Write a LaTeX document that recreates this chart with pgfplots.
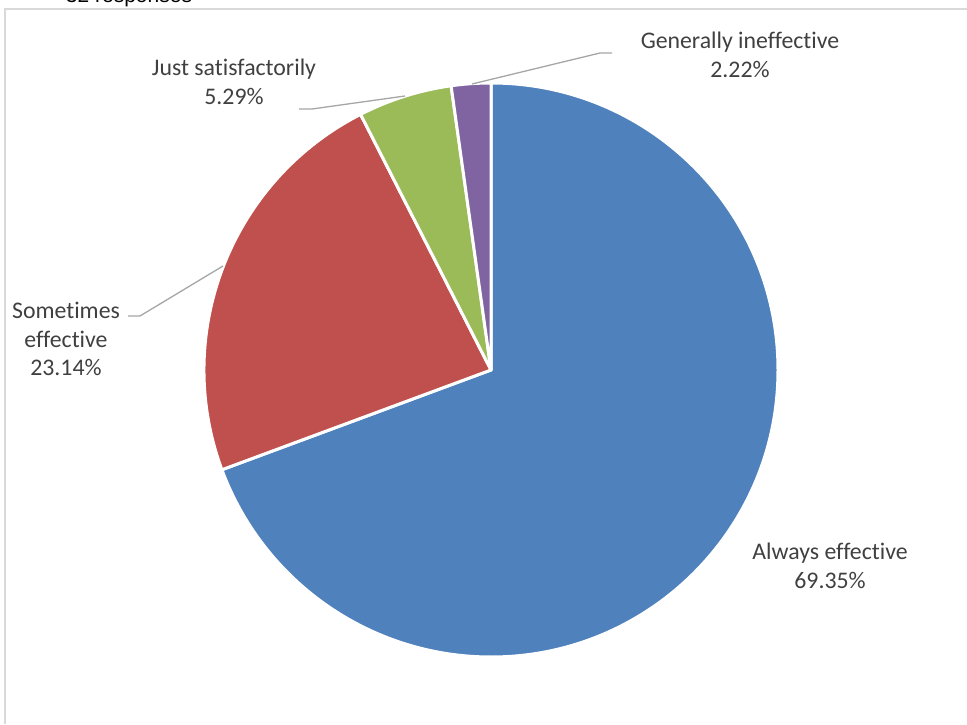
\documentclass[border=0pt]{standalone}
\usepackage{pgfplots}
\pgfplotsset{compat=1.18}
\usepackage{fontspec}
\setmainfont[Ligatures={NoCommon}]{Carlito}
\newfontfamily\arialf{Liberation Sans}
\definecolor{cblue}{HTML}{4F81BD}
\definecolor{cred}{HTML}{C0504D}
\definecolor{cgreen}{HTML}{9BBB59}
\definecolor{cpurple}{HTML}{8064A2}
\definecolor{ctext}{HTML}{404040}
\definecolor{clead}{HTML}{A6A6A6}
\definecolor{cframe}{HTML}{D9D9D9}
\begin{document}
\begin{tikzpicture}
\path[use as bounding box] (0,0) rectangle (967pt,724pt);
\begin{axis}[x=1pt,y=1pt,xmin=0,xmax=967,ymin=0,ymax=724,hide axis,clip=false]
% frame
\addplot[cframe,line width=2pt,no marks] coordinates {(5,0) (5,715) (967,715)};
% wedges: value in percent, clockwise from 12 o'clock
\pgfplotsextra{
  \gdef\curang{90}
  \foreach \v/\c in {69.35/cblue,23.14/cred,5.29/cgreen,2.22/cpurple}{
    \pgfmathsetmacro\endang{\curang-3.6*\v}
    \fill[\c,draw=white,line width=3pt,line join=round] (axis cs:491,354) -- ++(\curang:287pt) arc[start angle=\curang,end angle=\endang,radius=287pt] -- cycle;
    \xdef\curang{\endang}
  }
}
% leader lines
\addplot[clead,line width=1.3pt,no marks] coordinates {(472,640) (600,671) (612,671)};
\addplot[clead,line width=1.3pt,no marks] coordinates {(405,628) (312,615) (299,615)};
\addplot[clead,line width=1.3pt,no marks] coordinates {(223,458) (140,408) (128,408)};
% labels
\begin{scope}[every node/.style={align=center,text=ctext,font=\fontsize{23.8pt}{28.8pt}\selectfont,inner sep=0pt}]
\node at (axis cs:740,669) {Generally ineffective\\2.22\%};
\node at (axis cs:234,642) {Just satisfactorily\\5.29\%};
\node at (axis cs:66,385) {Sometimes\\effective\\23.14\%};
\node at (axis cs:830,158) {Always effective\\69.35\%};
\end{scope}
\node[anchor=base,inner sep=0pt,font=\arialf\fontsize{21pt}{25pt}\selectfont] at (axis cs:129,721) {32 responses};
\end{axis}
\end{tikzpicture}
\end{document}
